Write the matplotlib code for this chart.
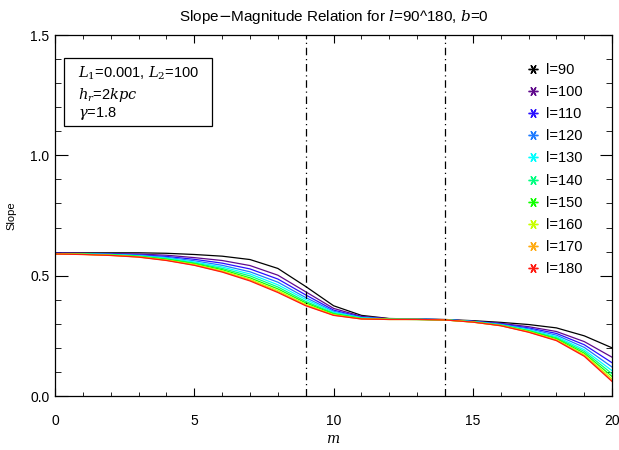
import numpy as np
import matplotlib
matplotlib.use('Agg')
import matplotlib.pyplot as plt
from matplotlib.lines import Line2D
from matplotlib.patches import Rectangle

plt.rcParams['font.family'] = ['Liberation Sans', 'DejaVu Sans']
plt.rcParams['mathtext.fontset'] = 'dejavuserif'

# magnitude grid
m = np.arange(0, 21, 1)

# slope curves, l = 90 ... 180
s090 = [0.595, 0.595, 0.595, 0.595, 0.593, 0.588, 0.581, 0.567, 0.530, 0.455, 0.375,
        0.335, 0.322, 0.320, 0.318, 0.313, 0.306, 0.297, 0.283, 0.250, 0.200]
s100 = [0.594, 0.593, 0.592, 0.590, 0.585, 0.575, 0.563, 0.542, 0.502, 0.433, 0.364,
        0.331, 0.321, 0.319, 0.317, 0.311, 0.302, 0.288, 0.268, 0.226, 0.161]
s110 = [0.593, 0.592, 0.590, 0.587, 0.580, 0.568, 0.552, 0.528, 0.486, 0.420, 0.357,
        0.328, 0.320, 0.319, 0.317, 0.310, 0.300, 0.283, 0.260, 0.213, 0.138]
s120 = [0.592, 0.591, 0.589, 0.585, 0.576, 0.562, 0.543, 0.516, 0.473, 0.409, 0.352,
        0.326, 0.320, 0.319, 0.317, 0.310, 0.298, 0.279, 0.253, 0.202, 0.120]
s130 = [0.592, 0.590, 0.588, 0.583, 0.573, 0.557, 0.536, 0.507, 0.462, 0.401, 0.348,
        0.325, 0.319, 0.319, 0.317, 0.309, 0.296, 0.275, 0.247, 0.192, 0.105]
s140 = [0.591, 0.590, 0.587, 0.581, 0.570, 0.553, 0.530, 0.499, 0.453, 0.393, 0.344,
        0.323, 0.319, 0.318, 0.316, 0.308, 0.295, 0.272, 0.242, 0.185, 0.092]
s150 = [0.591, 0.589, 0.586, 0.580, 0.568, 0.550, 0.525, 0.491, 0.445, 0.387, 0.341,
        0.322, 0.319, 0.318, 0.316, 0.308, 0.294, 0.270, 0.238, 0.178, 0.081]
s160 = [0.590, 0.589, 0.585, 0.578, 0.565, 0.547, 0.520, 0.485, 0.438, 0.381, 0.338,
        0.321, 0.318, 0.318, 0.316, 0.307, 0.293, 0.268, 0.234, 0.172, 0.071]
s170 = [0.590, 0.588, 0.584, 0.578, 0.564, 0.544, 0.517, 0.481, 0.433, 0.377, 0.336,
        0.320, 0.318, 0.318, 0.316, 0.307, 0.292, 0.266, 0.232, 0.168, 0.064]
s180 = [0.590, 0.588, 0.584, 0.577, 0.563, 0.543, 0.515, 0.478, 0.430, 0.375, 0.335,
        0.320, 0.318, 0.318, 0.316, 0.307, 0.292, 0.265, 0.230, 0.165, 0.060]

curves = [s090, s100, s110, s120, s130, s140, s150, s160, s170, s180]
labels = ['l=90', 'l=100', 'l=110', 'l=120', 'l=130',
          'l=140', 'l=150', 'l=160', 'l=170', 'l=180']
colors = ['#000000', '#600a8c', '#2a10ff', '#1e7bff', '#00ffff',
          '#00ff80', '#10ff00', '#c8ff00', '#ffaa10', '#ff1a10']

vlines = [9, 14]

fig = plt.figure(figsize=(6.19, 4.5), dpi=100)
ax = fig.add_axes([0.0889, 0.12, 0.9, 0.8022])

for s, c in zip(curves, colors):
    ax.plot(m, s, color=c, lw=0.9)

for v in vlines:
    ax.axvline(v, color='black', lw=0.9, dashes=[6, 3, 1, 3])

ax.set_xlim(0, 20)
ax.set_ylim(0, 1.5)
ax.set_xticks([0, 5, 10, 15, 20])
ax.set_xticks(np.arange(0, 21, 1), minor=True)
ax.set_yticks([0, 0.5, 1.0, 1.5])
ax.set_yticks(np.arange(0, 1.51, 0.1), minor=True)
ax.yaxis.set_major_formatter(matplotlib.ticker.FormatStrFormatter('%.1f'))
ax.tick_params(axis='x', which='major', direction='in', length=6, top=True, pad=13, labelsize=10)
ax.tick_params(axis='x', which='minor', direction='in', length=3, top=True)
ax.tick_params(axis='y', which='major', direction='in', length=9, right=True, pad=4, labelsize=10)
ax.tick_params(axis='y', which='minor', direction='in', length=4.5, right=True)
for sp in ax.spines.values():
    sp.set_linewidth(0.9)

ax.set_xlabel(r'$\mathbf{\mathit{m}}$', fontsize=10, labelpad=3)
ax.set_ylabel('Slope', fontsize=8, labelpad=10)
ax.set_title(r'Slope$-$Magnitude Relation for $\mathit{l}$=90^180, $\mathit{b}$=0',
             fontsize=11, pad=10)

# parameter box
ax.add_patch(Rectangle((0.016, 0.748), 0.265, 0.189, transform=ax.transAxes,
                       fill=False, lw=0.9, ec='black'))
ax.text(0.041, 0.893, r'$\mathit{L}_1$=0.001, $\mathit{L}_2$=100', transform=ax.transAxes,
        fontsize=10.5, va='center')
ax.text(0.041, 0.835, r'$\mathbf{\mathit{h_r}}$=2$\mathbf{\mathit{kpc}}$', transform=ax.transAxes,
        fontsize=10.5, va='center')
ax.text(0.041, 0.782, r'$\gamma$=1.8', transform=ax.transAxes, fontsize=10.5, va='center')

handles = [Line2D([], [], ls='none', marker=(6, 2, 90), ms=7, mew=1.0,
                  color=c) for c in colors]
ax.legend(handles, labels, loc='upper left', bbox_to_anchor=(0.848, 0.923),
          frameon=False, handlelength=0.8, handletextpad=0.45, labelspacing=0.56,
          borderpad=0, borderaxespad=0, fontsize=10.5)

fig.savefig('out.png', dpi=100)
